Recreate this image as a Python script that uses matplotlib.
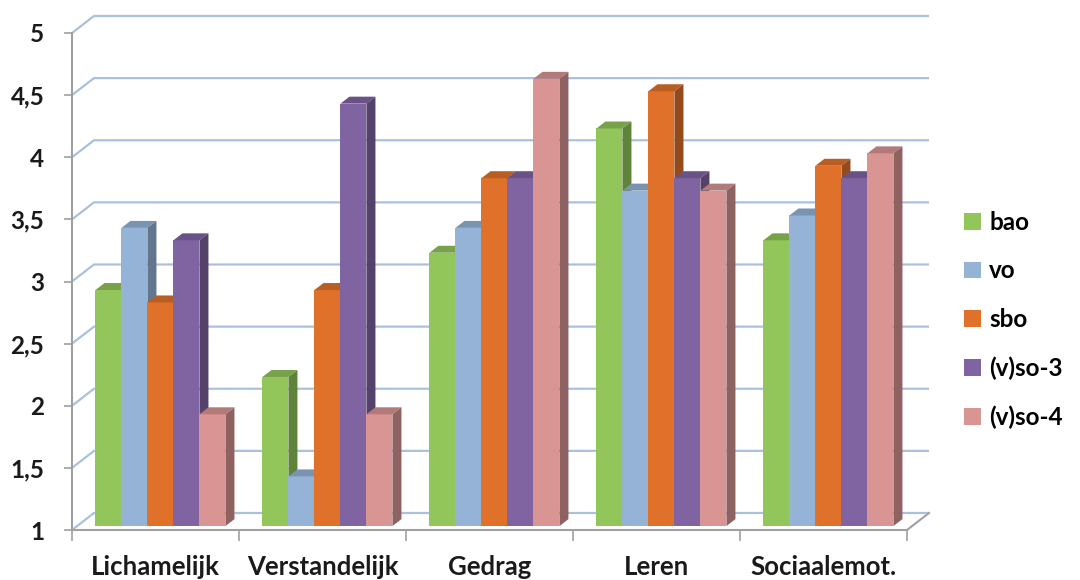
import matplotlib
matplotlib.use("Agg")
import matplotlib.pyplot as plt
from matplotlib.patches import Polygon, Patch

categories = ["Lichamelijk", "Verstandelijk", "Gedrag", "Leren", "Sociaalemot."]
series = ["bao", "vo", "sbo", "(v)so-3", "(v)so-4"]
bao = [2.9, 2.2, 3.2, 4.2, 3.3]
vo = [3.4, 1.4, 3.4, 3.7, 3.5]
sbo = [2.8, 2.9, 3.8, 4.5, 3.9]
vso3 = [3.3, 4.4, 3.8, 3.8, 3.8]
vso4 = [1.9, 1.9, 4.6, 3.7, 4.0]
values = [bao, vo, sbo, vso3, vso4]
yticks = [1, 1.5, 2, 2.5, 3, 3.5, 4, 4.5, 5]
ytick_labels = ["1", "1,5", "2", "2,5", "3", "3,5", "4", "4,5", "5"]
colors = ["#92C65A", "#95B3D7", "#E0712B", "#8064A2", "#D99594"]

plt.rcParams['font.family'] = ['Lato', 'DejaVu Sans']
plt.rcParams['font.weight'] = 'bold'

W, H = 1080, 580
fig = plt.figure(figsize=(W / 100, H / 100), dpi=100)
ax = fig.add_axes([72 / W, 50 / H, 835 / W, 497 / H])
ax.set_xlim(0, 5)
ax.set_ylim(1, 5)

px_x = 5 / 835
px_y = 4 / 497
DX, DY = 22 * px_x, 17 * px_y  # full floor depth in data units


def shade(c, f):
    r, g, b = matplotlib.colors.to_rgb(c)
    return (r * f, g * f, b * f)


grid_c = "#A9C1DF"
axis_c = "#A0A0A0"

# back wall gridlines with diagonal connectors
for v in yticks:
    ax.plot([0, DX, 5 + DX], [v, v + DY, v + DY], color=grid_c, lw=1.6,
            clip_on=False, zorder=1, solid_capstyle='butt')
# floor right edge
ax.plot([5, 5 + DX], [1, 1 + DY], color=axis_c, lw=1.5, clip_on=False, zorder=1)

# bars
d0, d1 = 0.23, 0.64
bw = 26 / 167
gstart = 0.11
for j, (name, vals, col) in enumerate(zip(series, values, colors)):
    xs = [i + gstart + j * bw + d0 * DX for i in range(len(categories))]
    hs = [v - 1 for v in vals]
    ax.bar(xs, hs, width=bw, bottom=1 + d0 * DY, align='edge', color=col,
           linewidth=0, zorder=3 + j, clip_on=False)
    for x, v in zip(xs, vals):
        yt = v + d0 * DY
        top = Polygon([(x, yt), (x + bw, yt),
                       (x + bw + (d1 - d0) * DX, yt + (d1 - d0) * DY),
                       (x + (d1 - d0) * DX, yt + (d1 - d0) * DY)],
                      closed=True, facecolor=shade(col, 0.82), lw=0,
                      zorder=3.5 + j, clip_on=False)
        side = Polygon([(x + bw, 1 + d0 * DY), (x + bw, yt),
                        (x + bw + (d1 - d0) * DX, yt + (d1 - d0) * DY),
                        (x + bw + (d1 - d0) * DX, 1 + d0 * DY + (d1 - d0) * DY)],
                       closed=True, facecolor=shade(col, 0.66), lw=0,
                       zorder=3.5 + j, clip_on=False)
        ax.add_patch(top)
        ax.add_patch(side)

# axes styling
for s in ['top', 'right']:
    ax.spines[s].set_visible(False)
for s in ['left', 'bottom']:
    ax.spines[s].set_color(axis_c)
    ax.spines[s].set_linewidth(1.5)
    ax.spines[s].set_zorder(2)

ax.set_yticks(yticks)
ax.set_yticklabels(ytick_labels)
ax.tick_params(axis='y', length=6, width=1.2, color=axis_c, pad=14,
               labelsize=17.5, labelcolor='#1a1a1a')
ax.set_xticks([i + 0.5 for i in range(len(categories))])
ax.set_xticklabels(categories)
ax.set_xticks(range(len(categories) + 1), minor=True)
ax.tick_params(axis='x', which='major', length=0, pad=18, labelsize=18.5,
               labelcolor='#1a1a1a')
ax.tick_params(axis='x', which='minor', length=8, width=1.2, color=axis_c)

handles = [Patch(facecolor=c, edgecolor='none') for c in colors]
fig.legend(handles, series, loc='center left',
           bbox_to_anchor=(964 / W, 1 - 320 / H), frameon=False,
           handlelength=0.68, handleheight=0.68, handletextpad=0.35,
           labelspacing=1.05, fontsize=17.5, borderaxespad=0, borderpad=0)

fig.savefig("out.png", dpi=100)
